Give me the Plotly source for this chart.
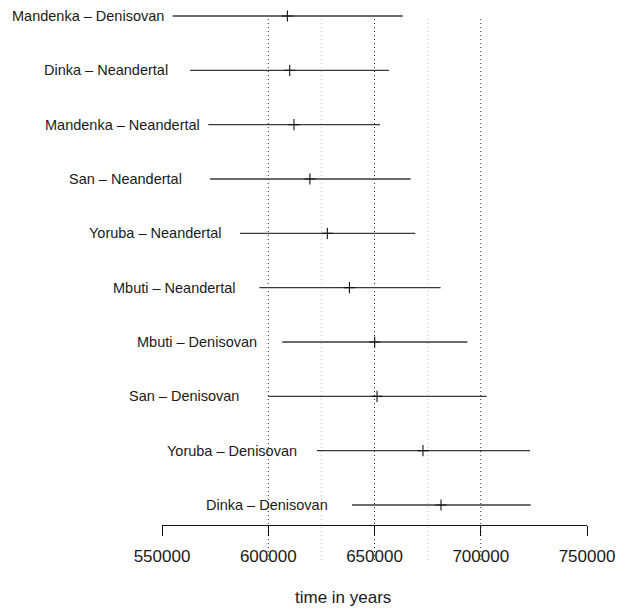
import plotly.graph_objects as go

# Population pairs, listed top to bottom
pairs = [
    "Mandenka – Denisovan",
    "Dinka – Neandertal",
    "Mandenka – Neandertal",
    "San – Neandertal",
    "Yoruba – Neandertal",
    "Mbuti – Neandertal",
    "Mbuti – Denisovan",
    "San – Denisovan",
    "Yoruba – Denisovan",
    "Dinka – Denisovan",
]
# Interval bounds and point estimates (years)
lower = [555000, 563200, 571800, 572600, 586700, 595800, 606600, 600000, 622900, 639400]
estimate = [609000, 610100, 612100, 619600, 627800, 638200, 650100, 651200, 672800, 681300]
upper = [663300, 656800, 652600, 667000, 669200, 681100, 693700, 702800, 723200, 723500]

# Where each pair label ends (right edge, in years)
label_x = [551700, 553800, 569000, 560400, 578900, 585800, 595800, 587000, 614300, 629100]

x_ticks = [550000, 600000, 650000, 700000, 750000]
major_refs = [600000, 650000, 700000]
minor_refs = [625000, 675000]

FONT = "Liberation Sans, Arial, Helvetica, sans-serif"
n = len(pairs)
rows = [n - i for i in range(n)]  # top row gets the highest y

fig = go.Figure()

for lo, hi, y in zip(lower, upper, rows):
    fig.add_trace(go.Scatter(
        x=[lo, hi], y=[y, y], mode="lines",
        line=dict(color="#3a3a3a", width=1.3),
        hoverinfo="skip", showlegend=False,
    ))

fig.add_trace(go.Scatter(
    x=estimate, y=rows, mode="markers",
    marker=dict(symbol="cross-thin", size=8, line=dict(color="#111", width=1.1)),
    showlegend=False,
))

for lx, y, name in zip(label_x, rows, pairs):
    fig.add_annotation(
        x=lx, y=y, xref="x", yref="y", text=name, showarrow=False,
        xanchor="right", yanchor="middle",
        font=dict(family=FONT, size=14.5, color="#1a1a1a"),
    )

# Dotted reference lines spanning past the axis
for v in major_refs:
    fig.add_shape(type="line", xref="x", yref="paper", x0=v, x1=v,
                  y0=-0.068, y1=0.988, layer="below",
                  line=dict(color="#222", width=1, dash="1px,3px"))
for v in minor_refs:
    fig.add_shape(type="line", xref="x", yref="paper", x0=v, x1=v,
                  y0=-0.068, y1=0.988, layer="below",
                  line=dict(color="#c4c4c4", width=1, dash="1px,3px"))

fig.add_annotation(
    x=0.4254, y=-0.1417, xref="paper", yref="paper", text="time in years",
    showarrow=False, xanchor="center", yanchor="middle",
    font=dict(family=FONT, size=17, color="#1a1a1a"),
)

fig.update_layout(
    width=630, height=610,
    margin=dict(l=162, r=43, t=10, b=85),
    paper_bgcolor="white", plot_bgcolor="white",
    xaxis=dict(
        range=[550000, 750000], tickvals=x_ticks,
        ticktext=[str(v) for v in x_ticks],
        showgrid=False, zeroline=False,
        showline=True, linecolor="#111", linewidth=1,
        ticks="outside", ticklen=10, tickcolor="#111", tickwidth=1,
        ticklabelstandoff=6,
        tickfont=dict(family=FONT, size=17, color="#1a1a1a"),
        fixedrange=True,
    ),
    yaxis=dict(
        range=[0.632, 10.11], visible=False, fixedrange=True,
    ),
)

fig.write_html("out.html")
